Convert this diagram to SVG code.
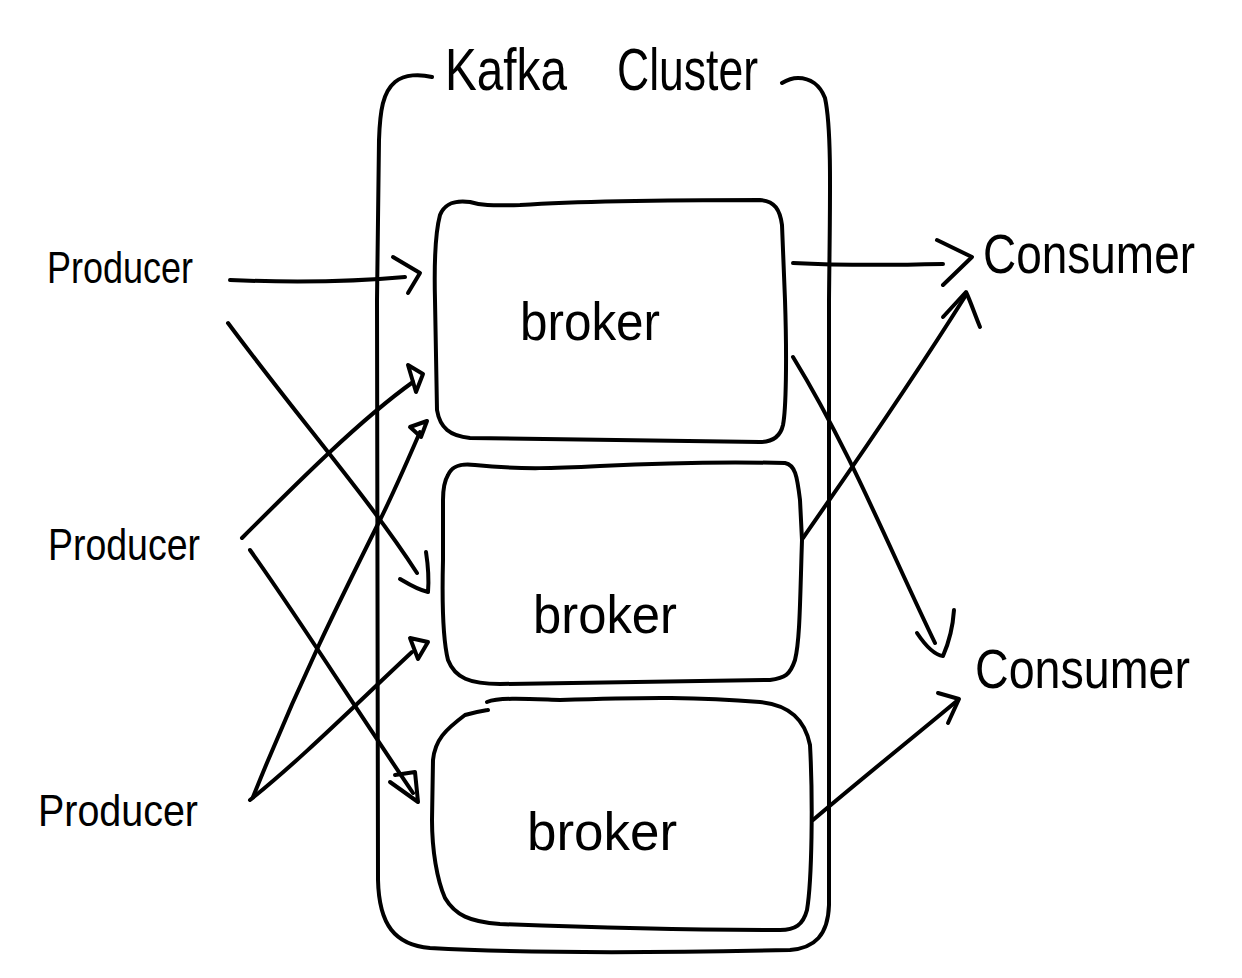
<svg xmlns="http://www.w3.org/2000/svg" width="1242" height="978" viewBox="0 0 1242 978">
<style>
.s{fill:none;stroke:#000;stroke-width:4;stroke-linecap:round;stroke-linejoin:round}
.t{font-family:"Liberation Sans",Arial,sans-serif;fill:#000}
</style>
<rect width="1242" height="978" fill="#fff"/>
<g id="cluster">
<path class="s" d="M 432,77 C 420,74 405,74 395,82 C 383,92 380,110 379,140 L 377,300 C 376,500 378,700 378,880 C 379,925 395,945 430,948 C 550,955 700,952 790,950 C 815,948 828,935 829,905 L 829,300 C 830,200 832,130 825,98 C 820,85 810,78 798,78 C 792,78 787,80 782,83"/>
<text class="t" x="445" y="90" font-size="60" textLength="122" lengthAdjust="spacingAndGlyphs">Kafka</text>
<text class="t" x="617" y="90" font-size="60" textLength="141" lengthAdjust="spacingAndGlyphs">Cluster</text>
</g>
<g id="broker1">
<path class="s" d="M 440,215 C 445,203 455,200 470,202 C 480,205 490,206 520,205 C 600,200 700,200 760,200 C 775,201 780,210 782,225 L 785,300 C 787,360 786,410 783,425 C 780,438 770,442 760,442 L 470,438 C 450,436 440,428 437,410 L 435,300 C 434,260 436,230 440,215 Z"/>
<text class="t" x="520" y="340" font-size="54" textLength="140" lengthAdjust="spacingAndGlyphs">broker</text>
</g>
<g id="broker2">
<path class="s" d="M 448,475 C 452,466 460,463 475,465 C 520,470 560,468 600,466 C 680,462 740,462 785,463 C 795,465 797,475 800,500 L 802,540 C 800,600 800,640 795,660 C 790,675 785,678 770,680 L 500,684 C 470,684 455,678 448,660 C 443,640 442,600 443,560 L 443,500 C 443,488 445,480 448,475 Z"/>
<text class="t" x="533" y="633" font-size="54" textLength="144" lengthAdjust="spacingAndGlyphs">broker</text>
</g>
<g id="broker3">
<path class="s" d="M 487,702 C 500,697 530,699 560,700 C 650,697 700,697 760,702 C 790,705 805,720 810,745 C 813,800 812,880 807,910 C 803,925 795,930 780,930 C 700,930 600,928 500,924 C 470,922 455,915 445,898 C 437,880 432,850 432,820 L 433,760 C 435,740 445,730 465,715 C 475,712 482,711 488,710"/>
<text class="t" x="527" y="850" font-size="54" textLength="150" lengthAdjust="spacingAndGlyphs">broker</text>
</g>
<g id="producer1"><text class="t" x="47" y="283" font-size="44" textLength="146" lengthAdjust="spacingAndGlyphs">Producer</text></g>
<g id="producer2"><text class="t" x="48" y="560" font-size="44" textLength="152" lengthAdjust="spacingAndGlyphs">Producer</text></g>
<g id="producer3"><text class="t" x="38" y="826" font-size="44" textLength="160" lengthAdjust="spacingAndGlyphs">Producer</text></g>
<g id="consumer1"><text class="t" x="983" y="273" font-size="56" textLength="212" lengthAdjust="spacingAndGlyphs">Consumer</text></g>
<g id="consumer2"><text class="t" x="975" y="688" font-size="56" textLength="215" lengthAdjust="spacingAndGlyphs">Consumer</text></g>
<g id="connectors">
<path class="s" d="M 230,280 C 300,283 360,281 405,277"/>
<path class="s" d="M 393,257 L 420,273 L 408,293"/>
<path class="s" d="M 228,323 C 300,420 370,500 417,573"/>
<path class="s" d="M 400,579 C 410,585 418,590 428,592 C 429,580 428,565 426,552"/>
<path class="s" d="M 242,538 C 300,480 360,420 413,382"/>
<path class="s" d="M 408,365 L 423,374 L 416,392 Z"/>
<path class="s" d="M 253,797 C 300,680 340,600 380,520 C 395,490 410,455 420,432"/>
<path class="s" d="M 410,427 L 427,421 L 421,437 Z"/>
<path class="s" d="M 250,800 C 300,760 350,710 412,652"/>
<path class="s" d="M 410,638 L 428,642 L 418,659 Z"/>
<path class="s" d="M 250,550 C 300,620 350,700 413,793"/>
<path class="s" d="M 390,782 L 418,802 L 415,772 L 395,775"/>
<path class="s" d="M 793,263 C 850,266 900,265 943,264"/>
<path class="s" d="M 937,240 L 972,257 L 943,285"/>
<path class="s" d="M 803,538 C 850,470 900,400 966,295"/>
<path class="s" d="M 943,317 L 966,292 C 970,300 975,315 980,327"/>
<path class="s" d="M 793,357 C 850,450 890,550 935,643"/>
<path class="s" d="M 917,633 C 925,645 935,655 943,656 C 950,640 953,625 954,610"/>
<path class="s" d="M 813,820 C 860,780 910,740 958,700"/>
<path class="s" d="M 938,693 L 959,699 L 948,723"/>
</g>
</svg>
